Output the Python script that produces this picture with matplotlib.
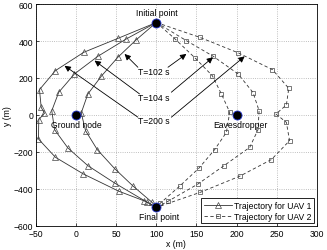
import matplotlib.pyplot as plt

plt.rcParams['font.family'] = ['Liberation Sans', 'DejaVu Sans']
plt.rcParams['font.size'] = 6.2

# UAV 1 trajectories (solid, triangles)
uav1_x = [
    [100, 75, 52, 31.3, 14.6, 6.4, 11.8, 26.3, 48, 70.8, 94.5, 100],
    [100, 62.5, 27, -2, -21.6, -30.3, -26.9, -10.3, 14.6, 48, 85, 100],
    [100, 52, 9.6, -25.7, -45.6, -43.5, -39.4, -46.5, -46.9, -25.7, 9, 53, 88, 100],
]
uav1_y = [
    [500, 407, 312, 209, 113, 11, -85, -187, -290, -384, -472, -500],
    [500, 411, 317, 222, 123, 23, -79, -178, -274, -368, -463, -500],
    [500, 414, 339, 240, 137, 41, 9, -25, -130, -229, -319, -412, -470, -500],
]

# UAV 2 trajectories (dashed, squares)
uav2_x = [
    [100, 122.8, 147.8, 169.8, 181, 191.4, 187.3, 172.7, 153, 129, 105, 100],
    [100, 137.4, 170.6, 201.8, 220.5, 228, 226.7, 216.4, 184, 152, 114.5, 100],
    [100, 154, 202, 244.7, 265, 262, 249, 262, 266, 243.4, 204, 155, 100],
]
uav2_y = [
    [500, 413, 310, 212, 114, 15, -94, -187, -288, -385, -477, -500],
    [500, 402, 318, 222, 121, 23, -79, -175, -275, -373, -467, -500],
    [500, 420, 336, 245, 144, 54, 5, -40, -139, -241, -331, -418, -500],
]

# special points
pt_names = ["Initial point", "Final point", "Ground node", "Eavesdropper"]
pt_x = [100, 100, 0, 200]
pt_y = [500, -500, 0, 0]
label_x = [100, 103, 0, 205]
label_y = [530, -525, -28, -28]
label_va = ["bottom", "top", "top", "top"]

# time annotations
t_labels = ["T=102 s", "T=104 s", "T=200 s"]
t_text_y = [234, 92, -32]
t_left_tail = [(77, 258), (79, 114), (77, -12)]
t_left_tip = [(60.4, 330), (23, 294), (-14.4, 266)]
t_right_tail = [(114.5, 258), (118.7, 123), (118.7, -12)]
t_right_tip = [(137.4, 330), (170.6, 312), (210, 317)]

fig = plt.figure(figsize=(3.27, 2.51), dpi=100)
ax = fig.add_axes([0.110, 0.096, 0.859, 0.884])

for i, (xs, ys) in enumerate(zip(uav1_x, uav1_y)):
    ax.plot(xs, ys, '-', color='#333333', lw=0.6, marker='^', markersize=4,
            markerfacecolor='none', markeredgecolor='#444444', markeredgewidth=0.5,
            label='Trajectory for UAV 1' if i == 0 else None)

for i, (xs, ys) in enumerate(zip(uav2_x, uav2_y)):
    ax.plot(xs, ys, '--', color='#333333', lw=0.6, dashes=(4, 3), marker='s', markersize=3,
            markerfacecolor='none', markeredgecolor='#444444', markeredgewidth=0.5,
            label='Trajectory for UAV 2' if i == 0 else None)

ax.plot(pt_x, pt_y, 'o', color='black', markersize=6.5, markeredgecolor='#2233cc',
        markeredgewidth=0.6, zorder=5)
for name, lx, ly, va in zip(pt_names, label_x, label_y, label_va):
    ax.text(lx, ly, name, ha='center', va=va)

arrow = dict(arrowstyle='-|>', color='black', lw=0.6, mutation_scale=9,
             shrinkA=0, shrinkB=0)
for lab, ty, lt, lp, rt, rp in zip(t_labels, t_text_y, t_left_tail, t_left_tip,
                                   t_right_tail, t_right_tip):
    ax.text(97, ty, lab, ha='center', va='center')
    ax.annotate('', xy=lp, xytext=lt, arrowprops=arrow)
    ax.annotate('', xy=rp, xytext=rt, arrowprops=arrow)

ax.set_xlim(-50, 300)
ax.set_ylim(-600, 600)
ax.set_xticks(range(-50, 301, 50))
ax.set_yticks(range(-600, 601, 200))
ax.grid(True, linestyle=':', color='#aaaaaa', lw=0.6)
ax.tick_params(direction='in', length=2, width=0.5, pad=2)
for s in ax.spines.values():
    s.set_linewidth(0.6)
ax.set_xlabel('x (m)', labelpad=1)
ax.set_ylabel('y (m)', labelpad=1)

leg = ax.legend(loc='lower right', fancybox=False, edgecolor='black', framealpha=1,
                handlelength=3.2, borderpad=0.3, labelspacing=0.2, handletextpad=0.3,
                borderaxespad=0.3)
leg.get_frame().set_linewidth(0.6)

fig.savefig('out.png', dpi=100)
